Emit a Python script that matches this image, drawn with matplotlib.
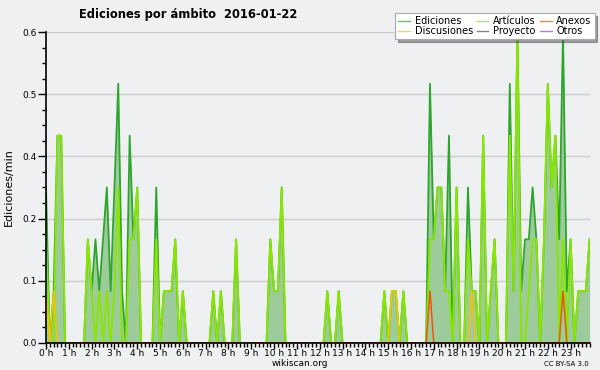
import matplotlib
matplotlib.use("Agg")
import matplotlib.pyplot as plt
from matplotlib.ticker import FixedLocator, MultipleLocator, FormatStrFormatter

# edits per minute, one value per 10 minutes (144 bins over the day)
ediciones = [
    0.3, 0, 0.1, 0.4, 0.4, 0, 0, 0, 0, 0, 0, 0.2,
    0.1, 0.2, 0.1, 0.2, 0.3, 0.1, 0.3, 0.5, 0.1, 0, 0.4, 0.2,
    0.3, 0, 0, 0, 0, 0.3, 0, 0.1, 0.1, 0.1, 0.2, 0,
    0.1, 0, 0, 0, 0, 0, 0, 0, 0.1, 0, 0.1, 0,
    0, 0, 0.2, 0, 0, 0, 0, 0, 0, 0, 0, 0.2,
    0.1, 0.1, 0.3, 0, 0, 0, 0, 0, 0, 0, 0, 0,
    0, 0, 0.1, 0, 0, 0.1, 0, 0, 0, 0, 0, 0,
    0, 0, 0, 0, 0, 0.1, 0, 0.1, 0.1, 0, 0.1, 0,
    0, 0, 0, 0, 0, 0.5, 0.2, 0.3, 0.3, 0.1, 0.4, 0,
    0.3, 0, 0, 0.3, 0.1, 0.1, 0, 0.4, 0, 0.1, 0.2, 0,
    0, 0, 0.5, 0.1, 0.6, 0.1, 0.2, 0.2, 0.3, 0.2, 0, 0.2,
    0.5, 0.3, 0.4, 0.2, 0.6, 0.1, 0.2, 0, 0.1, 0.1, 0.1, 0.2,
]
articulos = [
    0.2, 0, 0, 0.4, 0.4, 0, 0, 0, 0, 0, 0, 0.2,
    0.1, 0, 0.1, 0, 0.1, 0, 0.1, 0.3, 0, 0, 0.2, 0.2,
    0.3, 0, 0, 0, 0, 0.2, 0, 0.1, 0.1, 0.1, 0.2, 0,
    0.1, 0, 0, 0, 0, 0, 0, 0, 0.1, 0, 0.1, 0,
    0, 0, 0.2, 0, 0, 0, 0, 0, 0, 0, 0, 0.2,
    0.1, 0.1, 0.3, 0, 0, 0, 0, 0, 0, 0, 0, 0,
    0, 0, 0.1, 0, 0, 0.1, 0, 0, 0, 0, 0, 0,
    0, 0, 0, 0, 0, 0.1, 0, 0.1, 0.1, 0, 0.1, 0,
    0, 0, 0, 0, 0, 0.2, 0.2, 0.3, 0.3, 0.1, 0.1, 0,
    0.3, 0, 0, 0.2, 0.1, 0.1, 0, 0.4, 0, 0.1, 0.2, 0,
    0, 0, 0.4, 0.1, 0.6, 0, 0, 0.1, 0.2, 0.2, 0, 0.2,
    0.5, 0.3, 0.4, 0, 0.2, 0, 0.2, 0, 0.1, 0.1, 0.1, 0.2,
]
discusiones = [0] * 144
discusiones[0] = 0.1
discusiones[2] = 0.1
discusiones[91] = 0.1
discusiones[92] = 0.1
discusiones[112] = 0.1
anexos = [0] * 144
anexos[101] = 0.1
anexos[136] = 0.1
proyecto = [0] * 144
otros = [0] * 144

hour_labels = [f"{h} h" for h in range(24)]
title = "Ediciones por ámbito  2016-01-22"

bg = "#eff0f1"
fig = plt.figure(figsize=(6, 3.7), dpi=100, facecolor=bg)
ax = fig.add_axes([0.0767, 0.073, 0.906, 0.8405])
ax.set_facecolor(bg)
x = list(range(144))

ax.fill_between(x, ediciones, color="#9dcb9c", lw=0, zorder=1)
l_proy, = ax.plot(x, proyecto, color="#555555", lw=0.4, zorder=1.5)
l_otros, = ax.plot(x, otros, color="#9944ee", lw=0.4, zorder=1.5)
l_ed, = ax.plot(x, ediciones, color="#2ea52e", lw=1.3, zorder=3)
l_art, = ax.plot(x, articulos, color="#88e600", lw=1.4, zorder=4)
l_disc, = ax.plot(x, discusiones, color="#f5c400", lw=1.1, zorder=5)
l_anx, = ax.plot(x, anexos, color="#ee5511", lw=1.1, zorder=6)

ax.set_xlim(0, 143)
ax.set_ylim(0, 0.6)
ax.yaxis.set_major_locator(FixedLocator([0, 0.12, 0.24, 0.36, 0.48, 0.6]))
ax.yaxis.set_major_formatter(FormatStrFormatter("%.1f"))
ax.yaxis.set_minor_locator(MultipleLocator(0.03))
ax.set_xticks(range(0, 144, 6))
ax.set_xticklabels(hour_labels)
ax.xaxis.set_minor_locator(MultipleLocator(1))
ax.tick_params(axis="y", which="major", labelsize=6.5, length=6, width=1, pad=1)
ax.tick_params(axis="x", which="major", labelsize=6.5, length=4, width=1, pad=0)
ax.tick_params(axis="both", which="minor", length=3, width=1)
ax.grid(axis="y", which="major", color="#cccccc", lw=1, zorder=0)
ax.set_axisbelow(True)
for s in ["top", "right"]:
    ax.spines[s].set_visible(False)
for s in ["left", "bottom"]:
    ax.spines[s].set_linewidth(1.2)
    ax.spines[s].set_zorder(7)
ax.set_ylabel("Ediciones/min", fontsize=8, labelpad=6)

fig.text(0.313, 0.962, title, fontsize=8.3, fontweight="bold", ha="center", va="center")
fig.text(0.5, 0.018, "wikiscan.org", fontsize=6.5, ha="center", va="center")
fig.text(0.982, 0.016, "CC BY-SA 3.0", fontsize=5, ha="right", va="center")

# legend entries in the column order shown on the chart
handles = [l_ed, l_disc, l_art, l_proy, l_anx, l_otros]
labels = ["Ediciones", "Discusiones", "Artículos", "Proyecto", "Anexos", "Otros"]
leg = fig.legend(handles, labels, ncol=3, loc="upper right",
                 bbox_to_anchor=(0.999, 0.978), fontsize=7, frameon=True,
                 fancybox=False, shadow=True, handlelength=1.2, handletextpad=0.5,
                 columnspacing=0.4, labelspacing=0.05, borderpad=0.3)
leg.get_frame().set_edgecolor("#aaaaaa")
leg.get_frame().set_linewidth(0.8)
for ln in leg.get_lines():
    ln.set_linewidth(1.0)
    ln.set_alpha(0.7)

fig.savefig("out.png", dpi=100, facecolor=bg)
